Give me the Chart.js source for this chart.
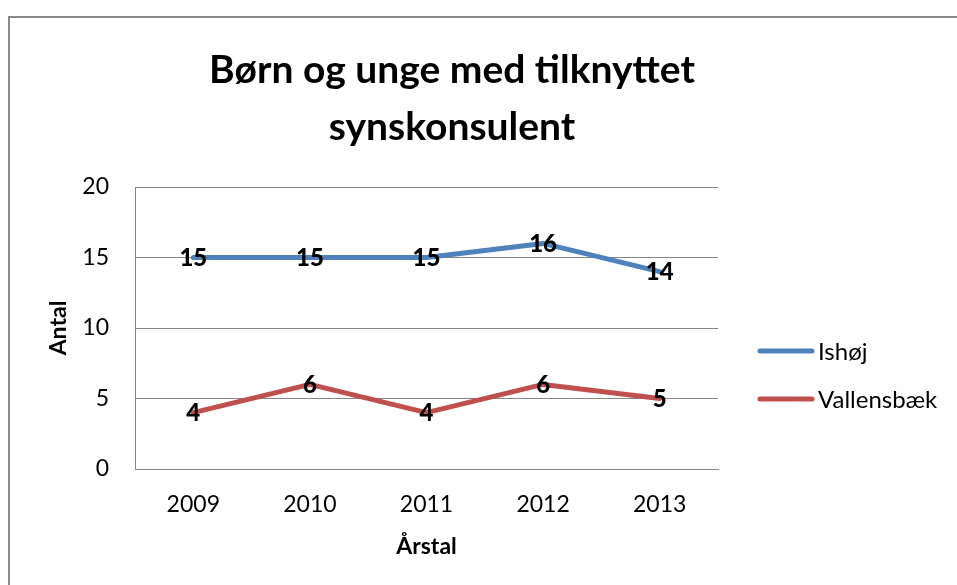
<!DOCTYPE html>
<html>
<head>
<meta charset="utf-8">
<script src="https://cdn.jsdelivr.net/npm/chart.js@4/dist/chart.umd.min.js"></script>
<style>
  html, body { margin: 0; padding: 0; background: #fff; }
  #wrap { position: relative; width: 957px; height: 585px; overflow: hidden; }
  #frame { position: absolute; left: 8px; top: 16px; width: 2000px; height: 2000px;
           border-left: 2px solid #8a8a8a; border-top: 2px solid #8a8a8a; }
  canvas { position: absolute; left: 0; top: 0; }
</style>
</head>
<body>
<div id="wrap">
  <div id="frame"></div>
  <canvas id="c" width="957" height="585"></canvas>
</div>
<script>
const chartTitle = ['Børn og unge med tilknyttet', 'synskonsulent'];
const years = ['2009', '2010', '2011', '2012', '2013'];
const ishoj = [15, 15, 15, 16, 14];
const vallensbaek = [4, 6, 4, 6, 5];
const seriesNames = ['Ishøj', 'Vallensbæk'];
const yTitle = 'Antal';
const xTitle = 'Årstal';

const FONT = 'Lato, "Open Sans", sans-serif';
const BLUE = '#4F81BD';
const RED = '#C0504D';
const GRID = '#868686';

const titlePlugin = {
  id: 'customTitle',
  afterDraw(chart) {
    const ctx = chart.ctx;
    ctx.save();
    ctx.fillStyle = '#000';
    ctx.font = 'bold 39px ' + FONT;
    ctx.textAlign = 'center';
    ctx.textBaseline = 'alphabetic';
    ctx.fillText(chartTitle[0], 452, 83);
    ctx.fillText(chartTitle[1], 452, 140);
    ctx.restore();
  }
};

const labelPlugin = {
  id: 'pointLabels',
  afterDatasetsDraw(chart) {
    const ctx = chart.ctx;
    ctx.save();
    ctx.fillStyle = '#000';
    ctx.font = '900 24px ' + FONT;
    ctx.textAlign = 'center';
    ctx.textBaseline = 'middle';
    chart.data.datasets.forEach((ds, i) => {
      const meta = chart.getDatasetMeta(i);
      meta.data.forEach((pt, j) => {
        ctx.fillText(String(ds.data[j]), pt.x, pt.y + 1);
      });
    });
    ctx.restore();
  }
};

const legendPlugin = {
  id: 'customLegend',
  afterDraw(chart) {
    const ctx = chart.ctx;
    ctx.save();
    const x0 = 760, x1 = 812, tx = 818;
    const ys = [351, 399];
    chart.data.datasets.forEach((ds, i) => {
      ctx.strokeStyle = ds.borderColor;
      ctx.lineWidth = 5;
      ctx.lineCap = 'round';
      ctx.beginPath();
      ctx.moveTo(x0, ys[i]);
      ctx.lineTo(x1, ys[i]);
      ctx.stroke();
      ctx.fillStyle = '#000';
      ctx.font = '24px ' + FONT;
      ctx.textAlign = 'left';
      ctx.textBaseline = 'middle';
      ctx.fillText(ds.label, tx, ys[i] + 1);
    });
    ctx.restore();
  }
};

new Chart(document.getElementById('c'), {
  type: 'line',
  data: {
    labels: years,
    datasets: [
      { label: seriesNames[0], data: ishoj, borderColor: BLUE, backgroundColor: BLUE },
      { label: seriesNames[1], data: vallensbaek, borderColor: RED, backgroundColor: RED }
    ]
  },
  options: {
    responsive: false,
    animation: false,
    events: [],
    layout: { padding: { left: 0, right: 239, top: 187, bottom: 0 } },
    elements: {
      line: { borderWidth: 5, tension: 0, borderCapStyle: 'round', borderJoinStyle: 'round' },
      point: { radius: 0, hoverRadius: 0 }
    },
    plugins: {
      legend: { display: false },
      title: { display: false },
      tooltip: { enabled: false }
    },
    scales: {
      x: {
        offset: true,
        grid: { display: false, drawTicks: false },
        border: { display: true, color: GRID, width: 1 },
        ticks: { color: '#000', font: { family: FONT, size: 23 }, padding: 22, maxRotation: 0 },
        title: { display: true, text: xTitle, color: '#000',
                 font: { family: FONT, size: 23, weight: 'bold' }, padding: { top: 0, bottom: 25 } },
        afterFit(s) { s.height = 116; }
      },
      y: {
        min: 0, max: 20,
        ticks: { stepSize: 5, color: '#000', font: { family: FONT, size: 23 }, padding: 26 },
        grid: { color: GRID, lineWidth: 1, drawTicks: false },
        border: { display: true, color: GRID, width: 1 },
        title: { display: true, text: yTitle, color: '#000',
                 font: { family: FONT, size: 23, weight: 'bold' }, padding: { top: 45, bottom: 0 } },
        afterFit(s) { s.width = 135; }
      }
    }
  },
  plugins: [titlePlugin, labelPlugin, legendPlugin]
});
</script>
</body>
</html>
